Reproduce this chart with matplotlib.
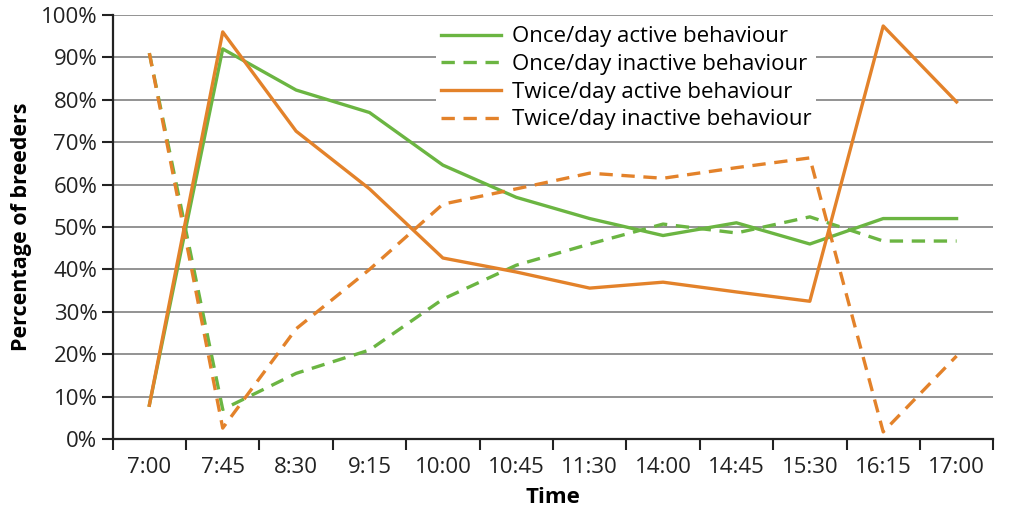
import numpy as np
import matplotlib
matplotlib.use("Agg")
import matplotlib.pyplot as plt
from matplotlib.ticker import FixedLocator, PercentFormatter

plt.rcParams['font.family'] = ['Open Sans', 'DejaVu Sans']

times = ["7:00", "7:45", "8:30", "9:15", "10:00", "10:45", "11:30",
         "14:00", "14:45", "15:30", "16:15", "17:00"]

once_active   = [8, 92, 82.3, 77, 64.6, 57, 52, 48, 51, 46, 52, 52]
once_inactive = [91, 7, 15.5, 21, 33, 41, 46, 50.7, 48.6, 52.4, 46.7, 46.7]
twice_active   = [8, 96, 72.6, 59, 42.7, 39.4, 35.6, 37, 34.7, 32.5, 97.4, 79.5]
twice_inactive = [91, 2.6, 26, 40, 55.4, 59, 62.7, 61.5, 64, 66.3, 1.7, 19.6]

GREEN = "#6bb542"
ORANGE = "#e3822a"
DASH = (0, (4.0, 2.6))

x = np.arange(len(times))

fig = plt.figure(figsize=(10.24, 5.16), dpi=100)
ax = fig.add_axes([0.110, 0.149, 0.860, 0.822])

ax.plot(x, once_active, color=GREEN, lw=2.4, label="Once/day active behaviour", zorder=3)
ax.plot(x, once_inactive, color=GREEN, lw=2.4, ls=DASH, label="Once/day inactive behaviour", zorder=3)
ax.plot(x, twice_active, color=ORANGE, lw=2.4, label="Twice/day active behaviour", zorder=3)
ax.plot(x, twice_inactive, color=ORANGE, lw=2.4, ls=DASH, label="Twice/day inactive behaviour", zorder=3)

ax.set_xlim(-0.5, len(times) - 0.5)
ax.set_ylim(0, 100)
ax.set_xticks(x)
ax.set_xticklabels(times, fontsize=16, color="#222222")
ax.xaxis.set_minor_locator(FixedLocator(np.arange(-0.5, len(times), 1)))
ax.tick_params(axis="x", which="major", length=0, pad=13)
ax.tick_params(axis="x", which="minor", length=8, width=1.5, color="#222222")
ax.set_yticks(np.arange(0, 101, 10))
ax.yaxis.set_major_formatter(PercentFormatter(decimals=0))
ax.tick_params(axis="y", length=8, width=1.5, color="#222222", labelsize=16,
               labelcolor="#222222", pad=3)

ax.grid(axis="y", color="#8a8a8a", lw=1.3, zorder=0)
ax.set_axisbelow(True)
for s in ["top", "right"]:
    ax.spines[s].set_visible(False)
for s in ["left", "bottom"]:
    ax.spines[s].set_linewidth(1.6)
    ax.spines[s].set_color("#222222")

ax.set_xlabel("Time", fontsize=16, fontweight="bold", labelpad=6)
ax.set_ylabel("Percentage of breeders", fontsize=15.5, fontweight="bold", labelpad=6)

leg = ax.legend(loc="upper left", bbox_to_anchor=(0.355, 1.01), fontsize=16,
                frameon=True, framealpha=1, edgecolor="white", facecolor="white",
                handlelength=2.7, handletextpad=0.5, labelspacing=0.3,
                borderpad=0.2, fancybox=False)
leg.get_frame().set_linewidth(0)

fig.savefig("out.png", dpi=100)
